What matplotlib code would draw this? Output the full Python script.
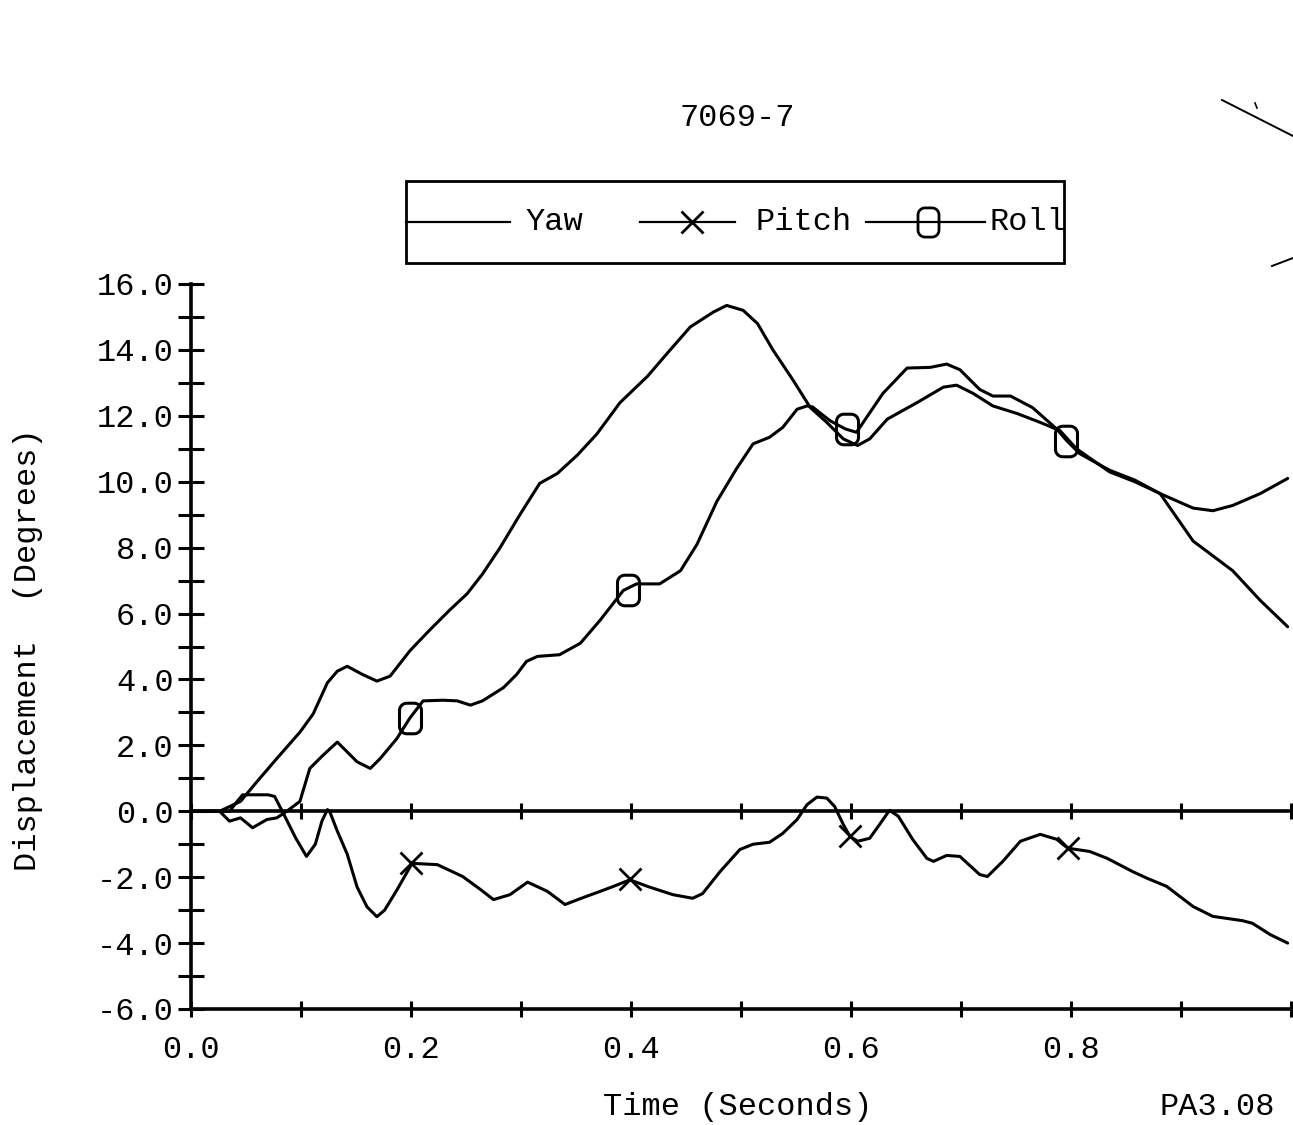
import numpy as np
import matplotlib
matplotlib.use("Agg")
import matplotlib.pyplot as plt
from matplotlib.ticker import MultipleLocator
from matplotlib.patches import Rectangle
from matplotlib.path import Path

# ---------------- data ----------------
title = "7069-7"
xlabel = "Time (Seconds)"
ylabel = "Displacement  (Degrees)"
corner_note = "PA3.08"
series_names = ["Yaw", "Pitch", "Roll"]

yaw_t = [0.000, 0.026, 0.045, 0.060, 0.078, 0.099, 0.111, 0.124, 0.133, 0.142,
         0.156, 0.169, 0.181, 0.199, 0.217, 0.235, 0.251, 0.265, 0.281, 0.299,
         0.317, 0.333, 0.351, 0.369, 0.390, 0.415, 0.433, 0.454, 0.475, 0.487,
         0.502, 0.515, 0.529, 0.547, 0.563, 0.578, 0.593, 0.606, 0.617, 0.633,
         0.660, 0.684, 0.696, 0.711, 0.729, 0.751, 0.772, 0.790, 0.805, 0.835,
         0.858, 0.881, 0.911, 0.929, 0.947, 0.972, 0.997]
yaw_y = [0.0, 0.0, 0.3, 0.9, 1.6, 2.4, 2.95, 3.9, 4.25, 4.4,
         4.15, 3.95, 4.1, 4.87, 5.5, 6.1, 6.6, 7.2, 8.0, 9.0,
         9.95, 10.25, 10.8, 11.45, 12.4, 13.2, 13.9, 14.7, 15.15, 15.35,
         15.2, 14.8, 14.0, 13.1, 12.25, 11.8, 11.3, 11.1, 11.3, 11.9,
         12.4, 12.87, 12.93, 12.68, 12.3, 12.07, 11.8, 11.55, 11.0, 10.3,
         10.0, 9.64, 9.2, 9.12, 9.28, 9.64, 10.1]

pitch_t = [0.000, 0.035, 0.042, 0.047, 0.070, 0.076, 0.083, 0.095, 0.105, 0.113,
           0.119, 0.124, 0.126, 0.133, 0.142, 0.151, 0.160, 0.169, 0.176, 0.187,
           0.201, 0.224, 0.247, 0.263, 0.275, 0.290, 0.306, 0.324, 0.340, 0.354,
           0.372, 0.384, 0.399, 0.415, 0.438, 0.456, 0.465, 0.481, 0.499, 0.511,
           0.526, 0.538, 0.551, 0.560, 0.569, 0.578, 0.585, 0.593, 0.599, 0.606,
           0.617, 0.626, 0.635, 0.643, 0.656, 0.669, 0.675, 0.687, 0.699, 0.717,
           0.724, 0.738, 0.754, 0.772, 0.787, 0.797, 0.817, 0.833, 0.856, 0.869,
           0.887, 0.911, 0.929, 0.956, 0.965, 0.981, 0.997]
pitch_y = [0.0, 0.0, 0.3, 0.5, 0.5, 0.45, 0.0, -0.8, -1.37, -1.0,
           -0.3, 0.05, 0.0, -0.6, -1.3, -2.3, -2.9, -3.2, -3.0, -2.4,
           -1.58, -1.62, -1.98, -2.37, -2.68, -2.53, -2.15, -2.43, -2.83, -2.65,
           -2.43, -2.28, -2.08, -2.28, -2.53, -2.64, -2.5, -1.83, -1.16, -1.0,
           -0.94, -0.67, -0.25, 0.2, 0.43, 0.4, 0.15, -0.4, -0.76, -0.91,
           -0.82, -0.4, 0.03, -0.15, -0.85, -1.43, -1.52, -1.34, -1.37, -1.92,
           -1.98, -1.52, -0.91, -0.7, -0.85, -1.12, -1.22, -1.43, -1.83, -2.03,
           -2.28, -2.89, -3.19, -3.32, -3.4, -3.74, -4.0]

roll_t = [0.000, 0.026, 0.035, 0.045, 0.056, 0.069, 0.078, 0.087, 0.099, 0.108,
          0.120, 0.133, 0.142, 0.151, 0.163, 0.172, 0.187, 0.199, 0.211, 0.229,
          0.242, 0.254, 0.265, 0.284, 0.296, 0.305, 0.315, 0.335, 0.354, 0.372,
          0.393, 0.405, 0.426, 0.445, 0.460, 0.478, 0.496, 0.511, 0.526, 0.538,
          0.551, 0.560, 0.565, 0.581, 0.595, 0.605, 0.629, 0.651, 0.672, 0.687,
          0.699, 0.717, 0.729, 0.745, 0.765, 0.787, 0.796, 0.808, 0.835, 0.858,
          0.881, 0.911, 0.947, 0.972, 0.997]
roll_y = [0.0, 0.0, -0.3, -0.2, -0.5, -0.25, -0.2, 0.0, 0.3, 1.3,
          1.7, 2.1, 1.8, 1.5, 1.3, 1.6, 2.2, 2.83, 3.35, 3.37,
          3.35, 3.22, 3.35, 3.75, 4.15, 4.55, 4.7, 4.75, 5.1, 5.8,
          6.7, 6.9, 6.9, 7.3, 8.1, 9.4, 10.4, 11.15, 11.35, 11.65,
          12.2, 12.3, 12.27, 11.85, 11.6, 11.5, 12.68, 13.45, 13.47, 13.57,
          13.4, 12.8, 12.6, 12.6, 12.25, 11.6, 11.25, 10.85, 10.35, 10.05,
          9.64, 8.2, 7.3, 6.4, 5.6]

pitch_mark_t = [0.200, 0.399, 0.599, 0.797]
pitch_mark_y = [-1.58, -2.07, -0.76, -1.12]
roll_mark_t = [0.199, 0.397, 0.596, 0.795]
roll_mark_y = [2.83, 6.7, 11.6, 11.25]

x_tick_labels = ["0.0", "0.2", "0.4", "0.6", "0.8"]
y_tick_labels = ["-6.0", "-4.0", "-2.0", "0.0", "2.0", "4.0", "6.0",
                 "8.0", "10.0", "12.0", "14.0", "16.0"]

# ---------------- marker shape: plotter "0" (tall rounded box) ----------------
def rounded_box_marker(w=0.72, h=1.0, r=0.24, n=8):
    pts = []
    corners = [(w / 2 - r, h / 2 - r, 0), (-w / 2 + r, h / 2 - r, 90),
               (-w / 2 + r, -h / 2 + r, 180), (w / 2 - r, -h / 2 + r, 270)]
    for cx, cy, a0 in corners:
        for k in range(n + 1):
            a = np.deg2rad(a0 + 90 * k / n)
            pts.append((cx + r * np.cos(a), cy + r * np.sin(a)))
    pts.append(pts[0])
    return Path(pts, closed=True)

ROLL_MARK = rounded_box_marker()

# ---------------- figure ----------------
W, H = 1293, 1125
FONT = "Liberation Mono"
FS = 23
fig = plt.figure(figsize=(W / 100, H / 100), dpi=100)

ax = fig.add_axes([191 / W, 1 - 1009 / H, (W - 191) / W, (1009 - 284) / H])
ax.set_xlim(0, (W - 191) / 1100)
ax.set_ylim(-6, 16)

lw = 2.2
kw = dict(color="black", lw=lw, zorder=3, solid_joinstyle="round",
          solid_capstyle="round")
ax.plot(yaw_t, yaw_y, **kw)
ax.plot(pitch_t, pitch_y, **kw)
ax.plot(roll_t, roll_y, **kw)
ax.plot(pitch_mark_t, pitch_mark_y, linestyle="none", marker="x", ms=16,
        mew=2.0, color="black", zorder=4)
ax.plot(roll_mark_t, roll_mark_y, linestyle="none", marker=ROLL_MARK, ms=22,
        mew=2.2, mfc="none", mec="black", zorder=4)

ax.spines["right"].set_visible(False)
ax.spines["top"].set_position(("data", 0))
for s in ["left", "bottom", "top"]:
    ax.spines[s].set_linewidth(2.6)

ax.xaxis.set_minor_locator(MultipleLocator(0.1))
ax.yaxis.set_minor_locator(MultipleLocator(1))
ax.set_xticks([0.0, 0.2, 0.4, 0.6, 0.8])
ax.set_xticklabels(x_tick_labels)
ax.set_yticks(np.arange(-6, 17, 2))
ax.set_yticklabels(y_tick_labels)
ax.xaxis.set_ticks_position("both")
ax.tick_params(axis="x", which="both", direction="inout", length=12, width=2.2,
               top=True, bottom=True, labeltop=False, pad=13)
ax.tick_params(axis="y", which="both", direction="inout", length=19, width=2.2,
               left=True, right=False, pad=3)
for lab in ax.get_xticklabels() + ax.get_yticklabels():
    lab.set_fontfamily(FONT)
    lab.set_fontsize(FS)
ax.patch.set_alpha(0)

# ---------------- overlay in pixel coordinates ----------------
ov = fig.add_axes([0, 0, 1, 1], zorder=-1)
ov.set_xlim(0, W)
ov.set_ylim(H, 0)
ov.axis("off")

ov.text(737, 118, title, ha="center", va="center", fontsize=FS, family=FONT)
ov.text(738, 1107, xlabel, ha="center", va="center", fontsize=FS, family=FONT)
ov.text(1217, 1107, corner_note, ha="center", va="center", fontsize=FS, family=FONT)
ov.text(28, 650, ylabel, ha="center", va="center", rotation=90, fontsize=FS,
        family=FONT)

# legend box
ov.add_patch(Rectangle((406, 181), 658, 82, fill=False, lw=2.0, ec="black"))
ly = 222
ov.plot([406, 510], [ly, ly], color="black", lw=1.6)
ov.text(525, ly, series_names[0], ha="left", va="center", fontsize=FS, family=FONT)
ov.plot([640, 735], [ly, ly], color="black", lw=1.6)
ov.plot([692], [ly], marker="x", ms=16, mew=2.0, color="black")
ov.text(755, ly, series_names[1], ha="left", va="center", fontsize=FS, family=FONT)
ov.plot([866, 985], [ly, ly], color="black", lw=1.6)
ov.plot([928], [ly], marker=ROLL_MARK, ms=21, mew=2.0, mfc="none", mec="black")
ov.text(990, ly, series_names[2], ha="left", va="center", fontsize=FS, family=FONT)

# scanning marks at top right
ov.plot([1222, 1293], [100, 136], color="black", lw=1.4)
ov.plot([1255, 1257], [103, 108], color="black", lw=1.2)
ov.plot([1272, 1293], [266, 258], color="black", lw=1.4)

fig.savefig("out.png", dpi=100)
